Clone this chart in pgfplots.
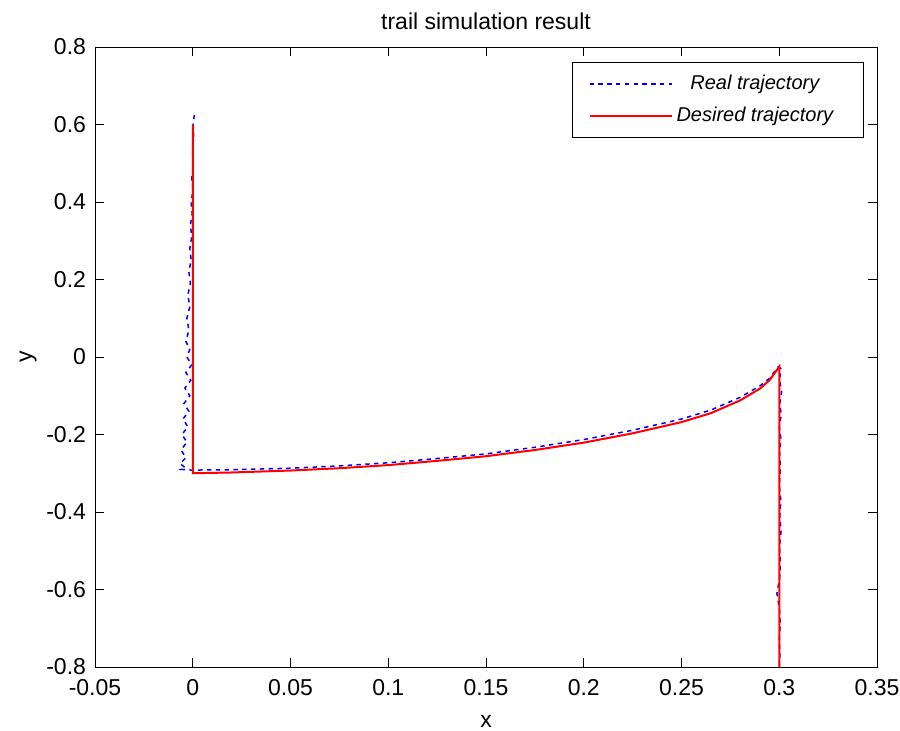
\documentclass[border=0pt]{standalone}
\usepackage{fontspec}
\setmainfont{Liberation Sans}
\usepackage{pgfplots}
\pgfplotsset{compat=1.18}
\begin{document}
\begin{tikzpicture}
\begin{axis}[
  at={(0,0)}, anchor=south west,
  scale only axis,
  width=391bp, height=310bp,
  xmin=-0.05, xmax=0.35, ymin=-0.8, ymax=0.8,
  xtick={-0.05,0,0.05,0.1,0.15,0.2,0.25,0.3,0.35},
  xticklabels={-0.05,0,0.05,0.1,0.15,0.2,0.25,0.3,0.35},
  ytick={-0.8,-0.6,-0.4,-0.2,0,0.2,0.4,0.6,0.8},
  yticklabels={-0.8,-0.6,-0.4,-0.2,0,0.2,0.4,0.6,0.8},
  tick align=inside,
  major tick length=4.5bp,
  tick style={black, line width=0.5bp},
  axis line style={line width=0.5bp},
  ticklabel style={font=\fontsize{11.5bp}{13bp}\selectfont},
  xticklabel style={yshift=-2.5bp},
  yticklabel style={xshift=-1bp},
  title={trail simulation result},
  title style={font=\fontsize{11.5bp}{13bp}\selectfont, yshift=-1bp},
  xlabel={x}, ylabel={y},
  label style={font=\fontsize{11.5bp}{13bp}\selectfont},
  xlabel style={yshift=-3bp},
  ylabel style={yshift=-2bp},
  legend style={at={(0.983,0.976)}, anchor=north east, draw=black, line width=0.5bp,
    font=\fontsize{10bp}{12bp}\itshape, inner xsep=8bp, inner ysep=4.5bp,
    row sep=3bp},
  legend cell align=center,
  legend image code/.code={\path (0bp,0bp) -- (41bp,0bp); \draw[#1] (0bp,0bp) -- (35bp,0bp);},
]
\addplot[blue, line width=0.75bp, dash pattern=on 2.2bp off 2.2bp] coordinates {
(0.0008,0.625)(0.0002,0.60)(0.0005,0.57)(-0.0002,0.54)(0.0003,0.50)(-0.0005,0.46)
(0.0001,0.43)(-0.0008,0.40)(-0.0003,0.37)(-0.0012,0.34)(-0.0005,0.31)(-0.0015,0.28)
(-0.0008,0.25)(-0.002,0.22)(-0.0012,0.19)(-0.0025,0.16)(-0.0015,0.13)(-0.003,0.10)
(-0.002,0.07)(-0.0035,0.04)(-0.0015,0.02)(-0.003,0.0)(-0.0005,-0.02)(-0.0035,-0.04)
(-0.001,-0.06)(-0.004,-0.08)(-0.0015,-0.10)(-0.0045,-0.12)(-0.002,-0.14)(-0.005,-0.16)
(-0.0025,-0.18)(-0.0055,-0.20)(-0.003,-0.22)(-0.006,-0.24)(-0.0035,-0.26)(-0.0065,-0.275)
(-0.004,-0.285)(-0.006,-0.29)(0.0,-0.292)(0.01,-0.291)
(0.02,-0.291)(0.05,-0.287)(0.075,-0.281)(0.1,-0.273)(0.125,-0.262)(0.15,-0.250)
(0.175,-0.233)(0.2,-0.213)(0.225,-0.189)(0.25,-0.160)(0.265,-0.137)(0.28,-0.104)
(0.29,-0.075)(0.295,-0.055)(0.2995,-0.025)
(0.3008,-0.03)(0.3002,-0.06)(0.3012,-0.09)(0.3003,-0.12)(0.301,-0.15)(0.3,-0.18)
(0.3008,-0.21)(0.3002,-0.25)(0.3006,-0.29)(0.3,-0.33)(0.3008,-0.37)(0.3003,-0.41)
(0.3009,-0.45)(0.3001,-0.49)(0.3006,-0.53)(0.3002,-0.57)(0.2988,-0.61)(0.3001,-0.65)
(0.3005,-0.69)(0.3,-0.73)(0.3003,-0.77)(0.3,-0.8)
};
\addlegendentry{Real trajectory\hspace*{5bp}}
\addplot[red, line width=1bp] coordinates {
(0,0.6)(0,-0.3)(0.02,-0.298)(0.05,-0.293)(0.075,-0.287)(0.1,-0.279)(0.125,-0.268)
(0.15,-0.256)(0.175,-0.240)(0.2,-0.221)(0.225,-0.197)(0.25,-0.168)(0.265,-0.145)
(0.28,-0.112)(0.29,-0.082)(0.295,-0.060)(0.3,-0.025)(0.3,-0.8)
};
\addlegendentry{Desired trajectory\hspace*{5bp}}
\end{axis}
\pgfresetboundingbox
\path (-47.5bp,-32bp) rectangle (402.5bp,333.5bp);
\end{tikzpicture}
\end{document}
